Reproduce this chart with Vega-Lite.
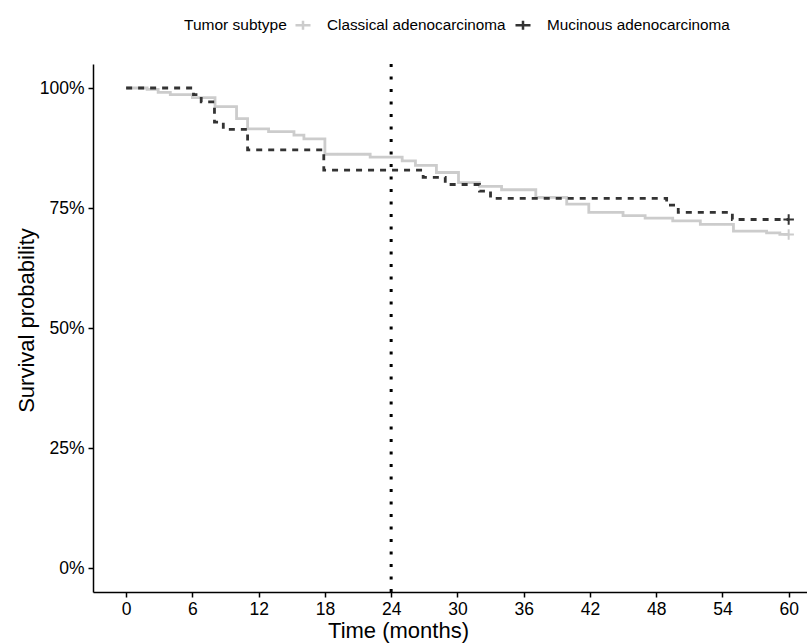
{
  "$schema": "https://vega.github.io/schema/vega-lite/v6.json",
  "width": 714,
  "height": 528,
  "autosize": {"type": "none"},
  "padding": {"left": 93, "top": 64, "right": 0, "bottom": 51},
  "background": "white",
  "config": {
    "font": "Liberation Sans",
    "view": {"stroke": null},
    "axis": {
      "grid": false,
      "domainColor": "black",
      "domainWidth": 1.5,
      "tickColor": "black",
      "tickWidth": 1.5,
      "tickSize": 5,
      "labelColor": "black",
      "labelFontSize": 17.5,
      "labelFont": "Liberation Sans",
      "titleFont": "Liberation Sans",
      "titleFontSize": 22,
      "titleFontWeight": "normal",
      "titleColor": "black",
      "labelFlush": false,
      "labelOverlap": false
    }
  },
  "resolve": {"legend": {"color": "independent", "strokeDash": "independent"}},
  "datasets": {
    "curves": [
      {"subtype": "Classical adenocarcinoma", "time": 0, "surv": 100},
      {"subtype": "Classical adenocarcinoma", "time": 1.9, "surv": 99.7},
      {"subtype": "Classical adenocarcinoma", "time": 2.9, "surv": 99.1},
      {"subtype": "Classical adenocarcinoma", "time": 4.0, "surv": 98.6},
      {"subtype": "Classical adenocarcinoma", "time": 6.0, "surv": 98.0},
      {"subtype": "Classical adenocarcinoma", "time": 8.05, "surv": 96.1},
      {"subtype": "Classical adenocarcinoma", "time": 10.0, "surv": 93.6},
      {"subtype": "Classical adenocarcinoma", "time": 11.0, "surv": 91.5},
      {"subtype": "Classical adenocarcinoma", "time": 12.9, "surv": 90.9},
      {"subtype": "Classical adenocarcinoma", "time": 15.2, "surv": 90.2},
      {"subtype": "Classical adenocarcinoma", "time": 16.1, "surv": 89.4},
      {"subtype": "Classical adenocarcinoma", "time": 18.0, "surv": 86.2},
      {"subtype": "Classical adenocarcinoma", "time": 22.1, "surv": 85.6},
      {"subtype": "Classical adenocarcinoma", "time": 25.0, "surv": 84.8},
      {"subtype": "Classical adenocarcinoma", "time": 26.2, "surv": 83.9},
      {"subtype": "Classical adenocarcinoma", "time": 28.1, "surv": 82.4},
      {"subtype": "Classical adenocarcinoma", "time": 30.1, "surv": 80.3},
      {"subtype": "Classical adenocarcinoma", "time": 32.0, "surv": 79.5},
      {"subtype": "Classical adenocarcinoma", "time": 34.0, "surv": 78.8},
      {"subtype": "Classical adenocarcinoma", "time": 37.1, "surv": 77.2},
      {"subtype": "Classical adenocarcinoma", "time": 39.9, "surv": 75.8},
      {"subtype": "Classical adenocarcinoma", "time": 41.9, "surv": 74.1},
      {"subtype": "Classical adenocarcinoma", "time": 45.0, "surv": 73.4},
      {"subtype": "Classical adenocarcinoma", "time": 47.0, "surv": 72.9},
      {"subtype": "Classical adenocarcinoma", "time": 49.5, "surv": 72.3},
      {"subtype": "Classical adenocarcinoma", "time": 52.0, "surv": 71.6},
      {"subtype": "Classical adenocarcinoma", "time": 55.0, "surv": 70.2},
      {"subtype": "Classical adenocarcinoma", "time": 58.0, "surv": 69.8},
      {"subtype": "Classical adenocarcinoma", "time": 59.2, "surv": 69.5},
      {"subtype": "Classical adenocarcinoma", "time": 60.0, "surv": 69.5},
      {"subtype": "Mucinous adenocarcinoma", "time": 0, "surv": 100},
      {"subtype": "Mucinous adenocarcinoma", "time": 6.1, "surv": 98.6},
      {"subtype": "Mucinous adenocarcinoma", "time": 6.8, "surv": 97.1},
      {"subtype": "Mucinous adenocarcinoma", "time": 8.0, "surv": 92.9},
      {"subtype": "Mucinous adenocarcinoma", "time": 8.8, "surv": 91.4},
      {"subtype": "Mucinous adenocarcinoma", "time": 11.0, "surv": 87.1},
      {"subtype": "Mucinous adenocarcinoma", "time": 17.9, "surv": 82.9},
      {"subtype": "Mucinous adenocarcinoma", "time": 26.9, "surv": 81.4},
      {"subtype": "Mucinous adenocarcinoma", "time": 28.9, "surv": 79.9},
      {"subtype": "Mucinous adenocarcinoma", "time": 32.0, "surv": 78.5},
      {"subtype": "Mucinous adenocarcinoma", "time": 33.0, "surv": 77.0},
      {"subtype": "Mucinous adenocarcinoma", "time": 48.95, "surv": 75.6},
      {"subtype": "Mucinous adenocarcinoma", "time": 50.0, "surv": 74.1},
      {"subtype": "Mucinous adenocarcinoma", "time": 54.9, "surv": 72.6},
      {"subtype": "Mucinous adenocarcinoma", "time": 60.0, "surv": 72.6}
    ],
    "censor": [
      {"subtype": "Classical adenocarcinoma", "time": 60, "surv": 69.5},
      {"subtype": "Mucinous adenocarcinoma", "time": 60, "surv": 72.6}
    ],
    "ref": [{"time": 24}]
  },
  "layer": [
    {
      "data": {"name": "curves"},
      "mark": {"type": "line", "interpolate": "step-after", "strokeWidth": 2.8, "strokeCap": "butt"},
      "encoding": {
        "x": {
          "field": "time", "type": "quantitative",
          "scale": {"domain": [-3, 61.66], "nice": false, "zero": false},
          "axis": {
            "values": [0, 6, 12, 18, 24, 30, 36, 42, 48, 54, 60],
            "title": "Time (months)",
            "labelPadding": 3,
            "titleX": 305, "titleY": 45, "titleAlign": "center", "titleBaseline": "alphabetic", "titleAnchor": null
          }
        },
        "y": {
          "field": "surv", "type": "quantitative",
          "scale": {"domain": [-5, 105], "nice": false, "zero": false},
          "axis": {
            "values": [0, 25, 50, 75, 100],
            "labelExpr": "datum.value + '%'",
            "title": "Survival probability",
            "labelPadding": 4,
            "titleX": -60, "titleY": 256, "titleAlign": "center", "titleBaseline": "alphabetic"
          }
        },
        "color": {
          "field": "subtype", "type": "nominal",
          "scale": {"domain": ["Classical adenocarcinoma", "Mucinous adenocarcinoma"], "range": ["#CCCCCC", "#333333"]},
          "legend": null
        },
        "strokeDash": {
          "field": "subtype", "type": "nominal",
          "scale": {"domain": ["Classical adenocarcinoma", "Mucinous adenocarcinoma"], "range": [[1, 0], [6, 6]]},
          "legend": null
        }
      }
    },
    {
      "data": {"name": "censor"},
      "mark": {"type": "point", "shape": "M-1,0H1M0,-1V1", "filled": false, "size": 110, "strokeWidth": 2, "opacity": 1},
      "encoding": {
        "x": {"field": "time", "type": "quantitative"},
        "y": {"field": "surv", "type": "quantitative"},
        "color": {
          "field": "subtype", "type": "nominal",
          "legend": {
            "orient": "none", "legendX": 91, "legendY": -48,
            "direction": "horizontal", "titleOrient": "left",
            "title": "Tumor subtype",
            "symbolType": "M-1,0H1M0,-0.6V0.6",
            "symbolSize": 225, "symbolStrokeWidth": 2.5,
            "symbolFillColor": "transparent",
            "labelFontSize": 15.3, "titleFontSize": 15.5, "titleFontWeight": "normal",
            "labelColor": "black", "titleColor": "black",
            "labelLimit": 0,
            "labelOffset": 15, "columnPadding": 4, "titlePadding": 7,
            "titleBaseline": "middle"
          }
        }
      }
    },
    {
      "data": {"name": "ref"},
      "mark": {"type": "rule", "color": "black", "strokeWidth": 3, "strokeDash": [3, 9.5], "strokeCap": "butt"},
      "encoding": {
        "x": {"field": "time", "type": "quantitative"}
      }
    }
  ]
}
